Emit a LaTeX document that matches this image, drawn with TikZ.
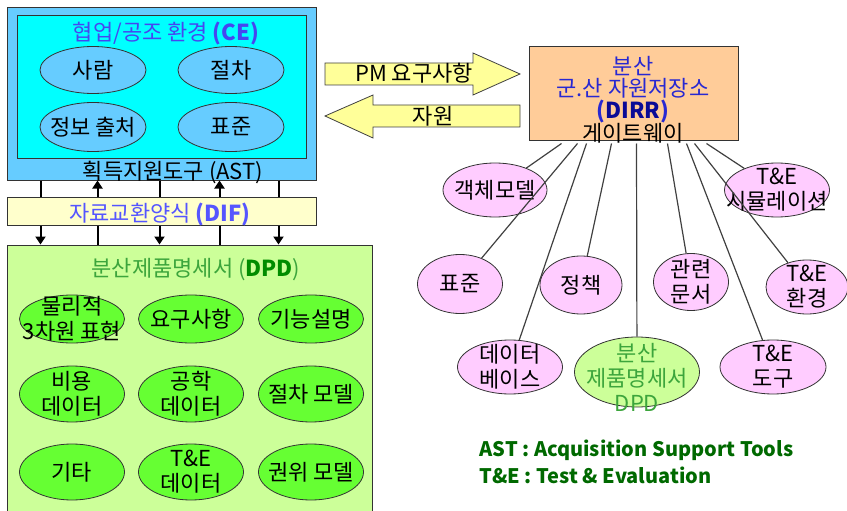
\documentclass[tikz,border=0pt]{standalone}
\usepackage{fontspec}
\setmainfont{Noto Sans CJK KR}
\usepackage{xcolor}
\usepackage{tikz}
\usetikzlibrary{shapes.geometric, arrows.meta, positioning}

\definecolor{ceouter}{HTML}{66CCFF}
\definecolor{ceinner}{HTML}{00FFFF}
\definecolor{difbg}{HTML}{FFFFCC}
\definecolor{dpdbg}{HTML}{CCFF99}
\definecolor{dpdell}{HTML}{66FF33}
\definecolor{pinkbg}{HTML}{FFCCFF}
\definecolor{dirrbg}{HTML}{FFCC99}
\definecolor{arrowbg}{HTML}{FFFF99}
\definecolor{ceblue}{RGB}{70,70,240}
\definecolor{difblue}{RGB}{85,85,255}
\definecolor{dirrblue}{RGB}{40,40,210}
\definecolor{dirrnavy}{RGB}{10,10,150}
\definecolor{dpdgreen}{RGB}{60,165,60}
\definecolor{dpddark}{RGB}{0,140,0}
\definecolor{notegreen}{RGB}{0,105,0}

\begin{document}
\begin{tikzpicture}[
    x=1pt, y=-1pt,
    font=\fontsize{22}{25}\selectfont,
    every label/.style={align=center, inner sep=0pt},
    panel/.style={draw=black!80, line width=1pt, inner sep=0pt},
    bubble/.style={ellipse, draw=black!80, line width=0.8pt, inner sep=0pt},
    ce_ell/.style={bubble, fill=ceouter, minimum width=106pt, minimum height=47pt},
    dpd_ell/.style={bubble, fill=dpdell, minimum width=105pt},
    pink_ell/.style={bubble, fill=pinkbg, minimum height=54pt},
    bus/.style={line width=2pt, draw=black},
    bus_tip/.style={bus, -{Triangle[width=10pt, length=8pt]}},
    fat_arrow/.style={draw=black!75, line width=0.8pt, fill=arrowbg},
    spoke/.style={draw=black!75, line width=1.2pt},
    note/.style={anchor=west, text=notegreen, font=\bfseries\fontsize{20}{22}\selectfont}
]
\useasboundingbox (0,0) rectangle (847,511);

% CE PANEL
\node[panel, fill=ceouter, minimum width=309pt, minimum height=172pt] (ce) at (161.5,94) {};
\node[panel, fill=ceinner, minimum width=289pt, minimum height=142pt] (cein) at (161.5,87) {};
\node[text=ceblue] (cetitle) at (166,34) {협업/공조 환경 \textbf{(CE)}};
\node[ce_ell, label=center:사람] (people) at (93,70) {};
\node[ce_ell, label=center:절차] (proc) at (231,70) {};
\node[ce_ell, minimum height=49pt, label=center:정보 출처] (source) at (93,127) {};
\node[ce_ell, minimum height=49pt, label=center:표준] (cestd) at (231,127) {};
\node (ast) at (173,172) {획득지원도구 (AST)};

% DPD PANEL
\node[panel, fill=dpdbg, minimum width=365pt, minimum height=268pt] (dpd) at (189.5,379) {};
\node[text=dpdgreen] (dpdtitle) at (196,270) {분산제품명세서 (\textbf{\textcolor{dpddark}{DPD}})};
\node[dpd_ell, minimum height=48pt, label=center:물리적\\3차원 표현] (phys) at (72,319) {};
\node[dpd_ell, minimum height=48pt, label=center:요구사항] (req) at (191,319) {};
\node[dpd_ell, minimum height=48pt, label=center:기능설명] (func) at (311,319) {};
\node[dpd_ell, minimum height=56pt, label=center:비용\\데이터] (cost) at (72,394) {};
\node[dpd_ell, minimum height=56pt, label=center:공학\\데이터] (eng) at (191,394) {};
\node[dpd_ell, minimum height=56pt, label=center:절차 모델] (procm) at (311,394) {};
\node[dpd_ell, minimum height=56pt, label=center:기타] (etc) at (72,472) {};
\node[dpd_ell, minimum height=56pt, label=center:T\&E\\데이터] (tedata) at (191,472) {};
\node[dpd_ell, minimum height=56pt, label=center:권위 모델] (auth) at (311,472) {};

% DIF BUS
\foreach \dx in {34,153,272} {
    \draw[bus] ([xshift=\dx pt]ce.south west) -- ([xshift=\dx pt, yshift=-17pt]ce.south west);
    \draw[bus_tip] ([xshift=\dx pt, yshift=20pt]dpd.north west) -- ([xshift=\dx pt]dpd.north west);
}
\foreach \dx in {91,213} {
    \draw[bus] ([xshift=\dx pt]dpd.north west) -- ([xshift=\dx pt, yshift=20pt]dpd.north west);
    \draw[bus_tip] ([xshift=\dx pt, yshift=-17pt]ce.south west) -- ([xshift=\dx pt]ce.south west);
}
\node[panel, fill=difbg, minimum width=309pt, minimum height=28pt] (dif) at (161.5,211) {};
\node[text=difblue] (diftext) at (160,215) {자료교환양식 \textbf{(DIF)}};

% REQUEST / RESOURCE ARROWS
\draw[fat_arrow] (325,63) -- (473,63) -- (473,53) -- (520,74) -- (473,95) -- (473,85) -- (325,85) -- cycle;
\node (pmreq) at (414,73) {PM 요구사항};
\draw[fat_arrow] (520,105) -- (373,105) -- (373,95) -- (325,116) -- (373,138) -- (373,127) -- (520,127) -- cycle;
\node (res) at (433,116) {자원};

% DIRR GATEWAY
\node[panel, fill=dirrbg, minimum width=209pt, minimum height=93pt] (dirr) at (633.5,93.5) {};
\node[align=center, text=dirrblue, font=\fontsize{22}{21.7}\selectfont] (dirrtext) at (633,100)
    {분산\\군.산 자원저장소\\\textbf{(\textcolor{dirrnavy}{DIRR})}\\\textcolor{black}{게이트웨이}};

% REPOSITORIES
\node[pink_ell, minimum width=104pt, label=center:객체모델] (obj) at (495,190) {};
\node[pink_ell, minimum width=105pt, label=center:T\&E\\시뮬레이션] (sim) at (777,190) {};
\node[pink_ell, minimum width=85pt, minimum height=59pt, label=center:표준] (std) at (460,284) {};
\node[pink_ell, minimum width=82pt, minimum height=58pt, label=center:정책] (pol) at (581,285) {};
\node[pink_ell, minimum width=75pt, minimum height=57pt, label=center:관련\\문서] (doc) at (691,282) {};
\node[pink_ell, minimum width=82pt, label=center:T\&E\\환경] (env) at (807,287) {};
\node[pink_ell, minimum width=105pt, label=center:데이터\\베이스] (db) at (510,367) {};
\node[bubble, fill=dpdbg, minimum width=125pt, minimum height=70pt,
      label={[text=dpdgreen, yshift=-5pt]center:분산\\제품명세서\\DPD}] (dpdr) at (637,372) {};
\node[pink_ell, minimum width=106pt, label=center:T\&E\\도구] (tool) at (773,367) {};

\foreach \dx/\tgt in {33/obj, 49/std, 58/db, 83/pol, 108/dpdr, 139/doc, 158/tool, 166/env, 178/sim}
    \draw[spoke] ([xshift=\dx pt, yshift=-3pt]dirr.south west) -- (\tgt);

% ABBREVIATIONS
\node[note] (astnote) at (476,450) {AST : Acquisition Support Tools};
\node[note] (tenote) at (476,475) {T\&E : Test \& Evaluation};

\end{tikzpicture}
\end{document}
